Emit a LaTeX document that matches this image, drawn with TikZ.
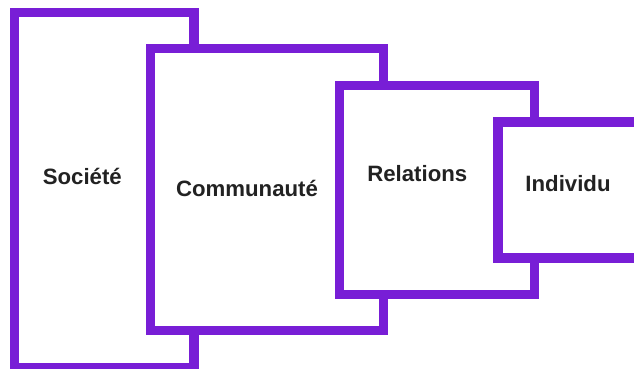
\documentclass[tikz,border=0pt]{standalone}
\usepackage{fontspec}
\setmainfont{Liberation Sans}
\begin{document}
\definecolor{frame}{RGB}{120,30,214}
\definecolor{ink}{RGB}{34,34,34}
\begin{tikzpicture}[x=1pt,y=-1pt,
  level/.style={draw=frame,line width=9.3pt,fill=white},
  label/.style={anchor=base,text=ink,font=\fontsize{22.2}{26}\selectfont\bfseries,inner sep=0pt}]
  \useasboundingbox (0,0) rectangle (634,368);
  % nested levels, back to front
  \draw[level] (14.5,12.5) rectangle (194,367.5);
  \draw[level] (150.5,48.5) rectangle (383.5,330.7);
  \draw[level] (339.7,85.7) rectangle (534.3,294.7);
  \draw[level] (498,122) rectangle (645,258);
  \node[label] (societe) at (82.3,184.3) {Société};
  \node[label] (communaute) at (247,196) {Communauté};
  \node[label] (relations) at (417.3,181.7) {Relations};
  \node[label] (individu) at (568,191.7) {Individu};
\end{tikzpicture}
\end{document}
